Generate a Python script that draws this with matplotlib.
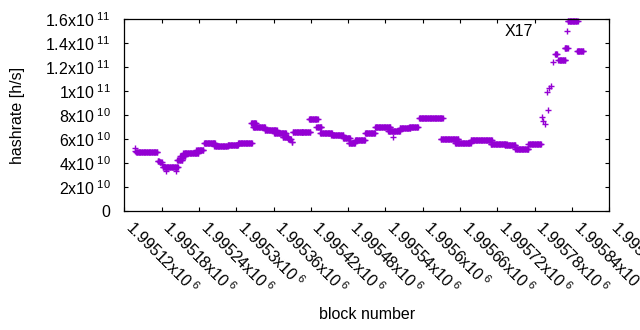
import numpy as np
import matplotlib
matplotlib.use("Agg")
import matplotlib.pyplot as plt

plt.rcParams["font.family"] = ["Liberation Sans", "DejaVu Sans"]
plt.rcParams["mathtext.fontset"] = "custom"
plt.rcParams["mathtext.rm"] = "Liberation Sans"
plt.rcParams["mathtext.default"] = "regular"

PURPLE = "#9400D3"
FS = 11.5

# runs of consecutive blocks that share one hashrate (x1e10 h/s);
# a run with start == end is a single block
run_start = [1995137, 1995138, 1995139, 1995174, 1995177, 1995181, 1995182,
             1995187, 1995203, 1995205, 1995210, 1995215, 1995236, 1995248,
             1995265, 1995286, 1995303, 1995324, 1995327, 1995346, 1995361,
             1995375, 1995384, 1995389, 1995391, 1995405, 1995417, 1995429,
             1995435, 1995453, 1995472, 1995481, 1995491, 1995507, 1995523,
             1995544, 1995552, 1995563, 1995578, 1995594, 1995629, 1995652,
             1995677, 1995709, 1995732, 1995749, 1995770, 1995792, 1995794,
             1995797, 1995800, 1995801, 1995803, 1995806, 1995810, 1995813,
             1995818, 1995828, 1995833, 1995848]
run_end = [1995137, 1995138, 1995173, 1995176, 1995180, 1995181, 1995206,
           1995187, 1995203, 1995213, 1995218, 1995239, 1995247, 1995266,
           1995286, 1995303, 1995325, 1995332, 1995346, 1995365, 1995380,
           1995384, 1995388, 1995390, 1995406, 1995419, 1995431, 1995437,
           1995454, 1995472, 1995483, 1995491, 1995507, 1995523, 1995548,
           1995563, 1995552, 1995580, 1995592, 1995632, 1995657, 1995677,
           1995711, 1995735, 1995749, 1995770, 1995790, 1995792, 1995794,
           1995797, 1995800, 1995801, 1995803, 1995806, 1995810, 1995816,
           1995829, 1995833, 1995849, 1995858]
run_rate = [5.22, 5.02, 4.88, 4.16, 4.07, 3.91, 3.65,
            3.32, 3.32, 4.24, 4.58, 4.80, 5.08, 5.64,
            5.39, 5.50, 5.64, 7.31, 6.96, 6.77, 6.50,
            6.16, 6.00, 5.77, 6.58, 6.61, 7.64, 6.98,
            6.47, 6.33, 6.06, 5.69, 5.94, 6.47, 6.98,
            6.67, 6.19, 6.89, 7.03, 7.73, 6.02, 5.64,
            5.94, 5.55, 5.50, 5.19, 5.58, 7.84, 7.50,
            7.25, 9.93, 8.42, 10.26, 10.43, 12.46, 13.11,
            12.60, 13.58, 15.85, 13.33]

x_ticks = np.arange(1995120, 1995901, 60)
y_ticks = np.arange(0, 1.61e11, 2e10)


def sci_label(v):
    if v == 0:
        return "0"
    exp = int(np.floor(np.log10(v)))
    return f"{v / 10**exp:g}x$10^{{\\;{exp}}}$"


blocks = np.concatenate([np.arange(s, e + 1) for s, e in zip(run_start, run_end)])
rates = np.concatenate([np.full(e - s + 1, r * 1e10)
                        for s, e, r in zip(run_start, run_end, run_rate)])

fig = plt.figure(figsize=(6.4, 3.3), dpi=100)
ax = fig.add_axes([124.3 / 640, 1 - 210.7 / 330, 485 / 640, 191.4 / 330])

ax.plot(blocks, rates, "+", color=PURPLE, ms=5.0, mew=1.0, label="X17",
        clip_on=False)

ax.set_xlim(x_ticks[0], x_ticks[-1])
ax.set_ylim(0, 1.6e11)
ax.set_xticks(x_ticks)
ax.set_xticklabels([sci_label(v) for v in x_ticks])
ax.set_yticks(y_ticks)
ax.set_yticklabels([sci_label(v) for v in y_ticks])
ax.tick_params(direction="in", length=3.2, width=0.8, top=True, right=True,
               labelsize=FS, colors="black")
ax.tick_params(axis="y", pad=10)
ax.tick_params(axis="x", pad=13)
plt.setp(ax.get_xticklabels(), rotation=-45, ha="left", va="baseline",
         rotation_mode="anchor")
for s in ax.spines.values():
    s.set_linewidth(0.9)

ax.set_xlabel("block number", fontsize=FS)
ax.xaxis.set_label_coords(0.5, -0.505)
ax.set_ylabel("hashrate [h/s]", fontsize=FS)
ax.yaxis.set_label_coords(-0.205, 0.5)

ax.legend(loc="center right", bbox_to_anchor=(596.5 / 640, 1 - 31.7 / 330),
          bbox_transform=fig.transFigure, frameon=False, markerfirst=False,
          fontsize=FS, handlelength=2.7, handletextpad=0.8, borderpad=0,
          numpoints=1)

fig.savefig("out.png", dpi=100)
